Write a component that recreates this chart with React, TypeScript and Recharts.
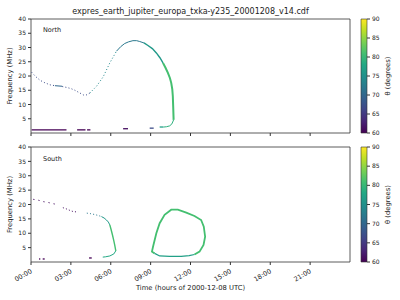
import { ScatterChart, Scatter, XAxis, YAxis, ReferenceArea, BarChart, Bar } from "recharts";

const FONT = "'DejaVu Sans', sans-serif";
const INK = "#222";

// axes
const timeTicks = [0, 3, 6, 9, 12, 15, 18, 21];
const timeLabels = ["00:00", "03:00", "06:00", "09:00", "12:00", "15:00", "18:00", "21:00"];
const freqTicks = [5, 10, 15, 20, 25, 30, 35, 40];
const thetaTicks = [60, 65, 70, 75, 80, 85, 90];

// North: main arc, split where the colour (theta) changes
const nArc1T = [0.05, 0.35, 0.68, 1.05, 1.43, 1.8];
const nArc1F = [21.3, 19.8, 18.5, 17.6, 16.9, 16.6];
const nArc2T = [1.8, 2.35];
const nArc2F = [16.6, 16.4];
const nArc3T = [2.35, 2.67, 3.0, 3.3, 3.65, 3.97, 4.2, 4.42];
const nArc3F = [16.3, 16.0, 15.6, 15.0, 14.1, 13.3, 13.4, 14.0];
const nArc4T = [4.42, 4.93, 5.43, 5.93, 6.43];
const nArc4F = [14.0, 16.4, 19.7, 24.6, 28.7];
const nArc5T = [6.43, 6.75, 7.05, 7.35, 7.67, 7.95, 8.18, 8.5];
const nArc5F = [28.7, 30.3, 31.4, 32.0, 32.4, 32.4, 32.1, 31.6];
const nArc6T = [8.5, 8.8, 9.13, 9.43, 9.7, 9.93];
const nArc6F = [31.6, 30.7, 29.6, 28.1, 26.4, 24.6];
const nArc7T = [9.93, 10.12, 10.3, 10.45, 10.55, 10.63, 10.67, 10.7, 10.73];
const nArc7F = [24.6, 22.9, 21.1, 19.3, 17.6, 15.3, 12.9, 9.0, 4.6];
const nArc8T = [10.73, 10.6, 10.43, 10.2, 10.0];
const nArc8F = [4.6, 3.2, 2.5, 2.2, 2.1];
const nArcTheta = [67, 70, 67, 74, 72, 76, 81, 79];

// North: short emissions near the floor
const nDashStart = [0.05, 3.47, 4.22, 6.93, 8.93, 9.68];
const nDashEnd = [2.67, 4.1, 4.47, 7.3, 9.23, 9.98];
const nDashF = [1.1, 1.1, 1.1, 1.5, 1.7, 2.1];
const nDashTheta = [60, 60, 60, 61, 67, 77];

// South: first arc
const sArc1T = [0.17, 0.55, 0.92, 1.3, 1.55, 1.85];
const sArc1F = [21.8, 21.5, 21.0, 20.7, 20.4, 20.1];
const sArc2T = [2.4, 2.7, 2.95, 3.2, 3.55];
const sArc2F = [18.9, 18.4, 17.9, 17.5, 17.4];
const sArc3T = [4.2, 4.5, 4.8, 5.05, 5.3];
const sArc3F = [17.0, 16.8, 16.5, 16.2, 15.8];
const sArc4T = [5.3, 5.5, 5.68, 5.82, 5.93];
const sArc4F = [15.8, 15.3, 14.6, 13.9, 12.9];
const sArc5T = [5.93, 6.03, 6.13, 6.22, 6.3, 6.38];
const sArc5F = [12.9, 11.2, 9.4, 7.6, 5.9, 3.9];
const sArc6T = [6.38, 6.23, 5.93, 5.6, 5.4];
const sArc6F = [3.9, 2.8, 2.1, 1.8, 1.7];
const sArcTheta = [61, 61, 72, 76, 81, 78];

// South: loop
const sLoop1T = [9.3, 9.1, 9.18, 9.43, 9.68, 10.05, 10.55, 11.05, 11.68, 12.3, 12.8, 13.0, 13.1, 12.98, 12.68, 12.3];
const sLoop1F = [3.0, 3.6, 5.3, 10.0, 13.5, 16.4, 18.2, 18.2, 17.2, 16.0, 14.6, 12.3, 8.8, 5.9, 3.6, 2.6];
const sLoop2T = [12.3, 11.9, 11.3, 10.43, 9.68, 9.3];
const sLoop2F = [2.6, 2.2, 1.95, 1.95, 2.1, 3.0];
const sLoopTheta = [81, 77];

// South: short emissions near the floor
const sDashStart = [0.6, 0.88, 4.37];
const sDashEnd = [0.7, 1.03, 4.57];
const sDashF = [1.05, 1.05, 1.4];
const sDashTheta = [60, 60, 60];

const VIRIDIS = ["#440154", "#482475", "#414487", "#355f8d", "#2a788e", "#21918c", "#22a884", "#44bf70", "#7ad151", "#bddf26", "#fde725"];

function hex(c: string) {
  return [1, 3, 5].map((i) => parseInt(c.slice(i, i + 2), 16));
}

function viridis(theta: number) {
  const u = Math.max(0, Math.min(1, (theta - 60) / 30)) * 10;
  const i = Math.min(9, Math.floor(u));
  const k = u - i;
  const a = hex(VIRIDIS[i]);
  const b = hex(VIRIDIS[i + 1]);
  return `rgb(${a.map((v, j) => Math.round(v + (b[j] - v) * k)).join(",")})`;
}

type Seg = { t: number[]; f: number[]; theta: number; w: number; dash?: string };

const DOT = { w: 1, dash: "1 2.2" };
const SPARSE = { w: 1, dash: "1.2 4" };
const THIN = { w: 1 };
const MID = { w: 1.4 };
const THICK = { w: 2 };

const northSegs: Seg[] = [
  ...[
    [nArc1T, nArc1F, DOT],
    [nArc2T, nArc2F, THIN],
    [nArc3T, nArc3F, DOT],
    [nArc4T, nArc4F, DOT],
    [nArc5T, nArc5F, THIN],
    [nArc6T, nArc6F, MID],
    [nArc7T, nArc7F, THICK],
    [nArc8T, nArc8F, THIN],
  ].map(([t, f, s]: any, i) => ({ t, f, theta: nArcTheta[i], ...s })),
  ...nDashStart.map((s, i) => ({
    t: [s, nDashEnd[i]],
    f: [nDashF[i], nDashF[i]],
    theta: nDashTheta[i],
    w: 1.3,
  })),
];

const southSegs: Seg[] = [
  ...[
    [sArc1T, sArc1F, SPARSE],
    [sArc2T, sArc2F, DOT],
    [sArc3T, sArc3F, DOT],
    [sArc4T, sArc4F, THIN],
    [sArc5T, sArc5F, MID],
    [sArc6T, sArc6F, THIN],
  ].map(([t, f, s]: any, i) => ({ t, f, theta: sArcTheta[i], ...s })),
  { t: sLoop1T, f: sLoop1F, theta: sLoopTheta[0], w: 1.8 },
  { t: sLoop2T, f: sLoop2F, theta: sLoopTheta[1], w: 1.2 },
  ...sDashStart.map((s, i) => ({
    t: [s, sDashEnd[i]],
    f: [sDashF[i], sDashF[i]],
    theta: sDashTheta[i],
    w: 1.3,
  })),
];

const noShape = () => <g />;

const TimeTick = ({ x, y, payload }: any) => (
  <g transform={`translate(${x - 1},${y + 1}) rotate(-30)`}>
    <text textAnchor="end" dy={5} fontSize={6.5} fill={INK} fontFamily={FONT}>
      {timeLabels[timeTicks.indexOf(payload.value)]}
    </text>
  </g>
);

function Panel({ segs, top, height, xAxisHeight, plotTop, labels }: any) {
  return (
    <div style={{ position: "absolute", left: 0, top }}>
      <ScatterChart width={360} height={height} margin={{ top: plotTop, right: 10, bottom: 0, left: 0 }}>
        <XAxis
          type="number"
          dataKey="t"
          domain={[0, 24]}
          ticks={timeTicks}
          interval={0}
          height={xAxisHeight}
          axisLine={false}
          tickSize={3}
          stroke="#333"
          tick={labels ? <TimeTick /> : noShape}
        />
        <YAxis
          type="number"
          dataKey="f"
          domain={[0, 40]}
          ticks={freqTicks}
          interval={0}
          width={31}
          axisLine={false}
          tickSize={3}
          stroke="#333"
          tick={{ fontSize: 6, fill: INK, fontFamily: FONT }}
        />
        {segs.map((s: Seg, i: number) => {
          const c = viridis(s.theta);
          return (
            <Scatter
              key={i}
              data={s.t.map((t, j) => ({ t, f: s.f[j] }))}
              fill={c}
              shape={noShape}
              line={{ stroke: c, strokeWidth: s.w, strokeDasharray: s.dash }}
              isAnimationActive={false}
            />
          );
        })}
        <ReferenceArea x1={0} x2={24} y1={0} y2={40} fill="none" stroke="#333" strokeWidth={0.8} />
      </ScatterChart>
    </div>
  );
}

const cbData = [{ k: "theta", v: 90 }];

function ColorBar({ top, plotTop, height, id }: any) {
  return (
    <div style={{ position: "absolute", left: 355, top }}>
      <BarChart width={45} height={height} data={cbData} margin={{ top: plotTop, right: 0, bottom: 8, left: 6 }} barCategoryGap={0}>
        <defs>
          <linearGradient id={id} x1="0" y1="1" x2="0" y2="0">
            {VIRIDIS.map((c, i) => (
              <stop key={i} offset={i / 10} stopColor={c} />
            ))}
          </linearGradient>
        </defs>
        <XAxis dataKey="k" hide />
        <YAxis
          orientation="right"
          type="number"
          domain={[60, 90]}
          ticks={thetaTicks}
          interval={0}
          width={33}
          tickSize={3}
          axisLine={false}
          stroke="#333"
          tick={{ fontSize: 6, fill: INK, fontFamily: FONT }}
        />
        <Bar dataKey="v" fill={`url(#${id})`} stroke="#333" strokeWidth={0.6} isAnimationActive={false} />
      </BarChart>
    </div>
  );
}

export default function App() {
  return (
    <div style={{ position: "absolute", left: 0, top: 0, width: 400, height: 300, background: "#fff", fontFamily: FONT }}>
      <Panel segs={northSegs} top={0} height={140} xAxisHeight={7} plotTop={19} labels={false} />
      <Panel segs={southSegs} top={140} height={160} xAxisHeight={38} plotTop={7} labels={true} />
      <ColorBar top={0} plotTop={19} height={141} id="cbN" />
      <ColorBar top={140} plotTop={7} height={130} id="cbS" />
      <svg width={400} height={300} style={{ position: "absolute", left: 0, top: 0, pointerEvents: "none" }}>
        <g fontFamily={FONT} fill={INK}>
          <text x={190.5} y={13.5} textAnchor="middle" fontSize={8}>
            expres_earth_jupiter_europa_txka-y235_20001208_v14.cdf
          </text>
          <text x={43} y={32} fontSize={6.5}>North</text>
          <text x={43} y={160.7} fontSize={6.5}>South</text>
          <text transform="translate(12,76) rotate(-90)" textAnchor="middle" fontSize={6.8}>Frequency (MHz)</text>
          <text transform="translate(12,204.5) rotate(-90)" textAnchor="middle" fontSize={6.8}>Frequency (MHz)</text>
          <text transform="translate(389.5,76) rotate(-90)" textAnchor="middle" fontSize={6.8}>θ (degrees)</text>
          <text transform="translate(389.5,204.5) rotate(-90)" textAnchor="middle" fontSize={6.8}>θ (degrees)</text>
          <text x={190.5} y={290} textAnchor="middle" fontSize={6.8}>Time (hours of 2000-12-08 UTC)</text>
        </g>
      </svg>
    </div>
  );
}
